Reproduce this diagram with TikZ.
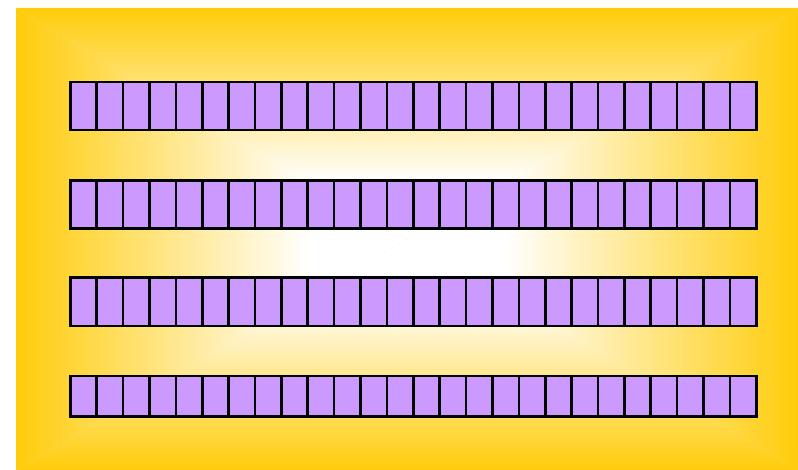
\documentclass[tikz,border=0pt]{standalone}
\usetikzlibrary{calc}
\definecolor{bgyellow}{RGB}{255,204,10}
\definecolor{cellpurple}{RGB}{204,153,255}
\definecolor{seamfill}{RGB}{255,226,150}
\pgfdeclareverticalshading{boxside}{100bp}{color(0bp)=(white); color(37.5bp)=(white); color(75bp)=(bgyellow); color(100bp)=(bgyellow)}
\tikzset{
  cellrow/.style={fill=cellpurple, draw=black, line width=2.8pt},
  celldiv/.style={draw=black, line width=2.6pt},
}
\begin{document}
\begin{tikzpicture}[x=1pt,y=-1pt]
\useasboundingbox (0,0) rectangle (798,470);
% background with box gradient
\coordinate (C) at (407,239);
\coordinate (TL) at (16,8);
\coordinate (TR) at (798,8);
\coordinate (BR) at (798,470);
\coordinate (BL) at (16,470);
\fill[seamfill] (TL) rectangle (BR);
\shade[shading=boxside, shading angle=0] (TL) -- (TR) -- (C) -- cycle;
\shade[shading=boxside, shading angle=90] (TL) -- (BL) -- (C) -- cycle;
\shade[shading=boxside, shading angle=180] (BL) -- (BR) -- (C) -- cycle;
\shade[shading=boxside, shading angle=270] (TR) -- (BR) -- (C) -- cycle;
% rows of cells
\foreach \ya/\yb [count=\r] in {82/130, 180.5/228.5, 277.5/326, 376/416.5}{
  \draw[cellrow] (70.3,\ya) rectangle (756.3,\yb);
  \foreach \i in {1,...,25}{
    \draw[celldiv] ({70.3+\i*26.385},\ya) -- ({70.3+\i*26.385},\yb);
  }
  \draw[black, line width=2.8pt] (70.3,\ya) rectangle (756.3,\yb);
}
\end{tikzpicture}
\end{document}
